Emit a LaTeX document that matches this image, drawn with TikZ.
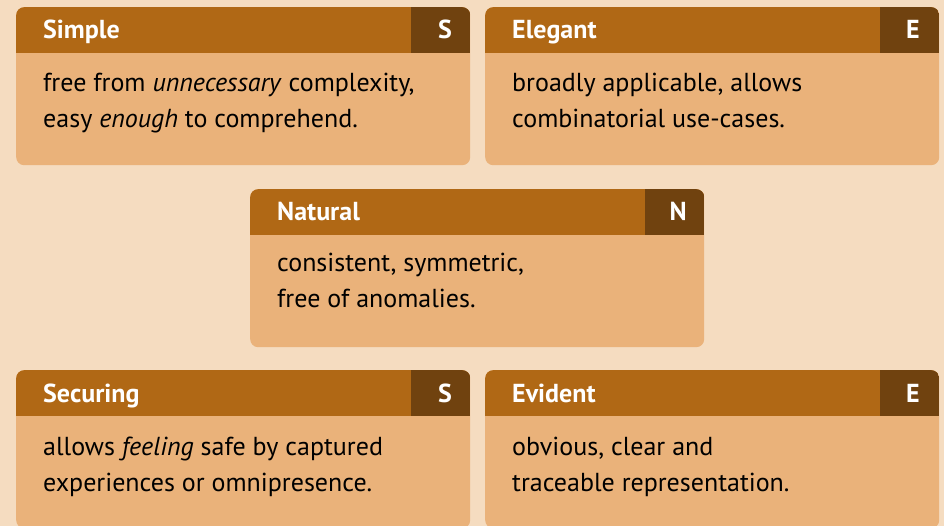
\documentclass[tikz,border=0pt]{standalone}
\usepackage{fontspec}
\setmainfont{PT Sans}
\usepackage{tikz}

\definecolor{pagebg}{HTML}{F5DCC0}
\definecolor{cardhead}{HTML}{B06815}
\definecolor{cardtag}{HTML}{70420F}
\definecolor{cardbody}{HTML}{EAB27A}

\begin{document}
\begin{tikzpicture}[x=1pt,y=-1pt]
      \tikzstyle{card}=[rectangle,rounded corners=8pt,fill=cardbody,anchor=north west,
        inner sep=0pt,minimum width=454pt,minimum height=158pt,
        path picture={
          \fill[cardhead,sharp corners] (path picture bounding box.north west) rectangle
            ([yshift=-46pt]path picture bounding box.north east);
          \fill[cardtag,sharp corners] ([xshift=-59pt]path picture bounding box.north east) rectangle
            ([yshift=-46pt]path picture bounding box.north east);}]
      \tikzstyle{title}=[inner sep=0pt,text=white,font=\fontsize{26}{28}\selectfont\bfseries,anchor=base west]
      \tikzstyle{tag}=[title,anchor=base east]
      \tikzstyle{body}=[inner sep=0pt,align=left,font=\fontsize{26}{36}\selectfont,anchor=base west]
      \useasboundingbox (0,0) rectangle (944,526);
      \clip (0,0) rectangle (944,526);
      \fill[pagebg] (0,0) rectangle (944,526);
      % top row
      \node[card] (S_1) at (16,7) {};
      \node[title] (S_1t) at (43,39) {Simple};
      \node[tag] (S_1l) at (452,39) {S};
      \node[body] (S_1b) at (43,128) {free from \textit{unnecessary} complexity,\\easy \textit{enough} to comprehend.};
      \node[card] (E_1) at (485,7) {};
      \node[title] (E_1t) at (512,39) {Elegant};
      \node[tag] (E_1l) at (920,39) {E};
      \node[body] (E_1b) at (512,128) {broadly applicable, allows\\combinatorial use-cases.};
      % middle
      \node[card] (N) at (250,189) {};
      \node[title] (N_t) at (277,221) {Natural};
      \node[tag] (N_l) at (687,221) {N};
      \node[body] (N_b) at (277,308) {consistent, symmetric,\\free of anomalies.};
      % bottom row
      \node[card] (S_2) at (16,370) {};
      \node[title] (S_2t) at (43,402) {Securing};
      \node[tag] (S_2l) at (452,402) {S};
      \node[body] (S_2b) at (43,491) {allows \textit{feeling} safe by captured\\experiences or omnipresence.};
      \node[card] (E_2) at (485,370) {};
      \node[title] (E_2t) at (512,402) {Evident};
      \node[tag] (E_2l) at (920,402) {E};
      \node[body] (E_2b) at (512,491) {obvious, clear and\\traceable representation.};
    \end{tikzpicture}
\end{document}
